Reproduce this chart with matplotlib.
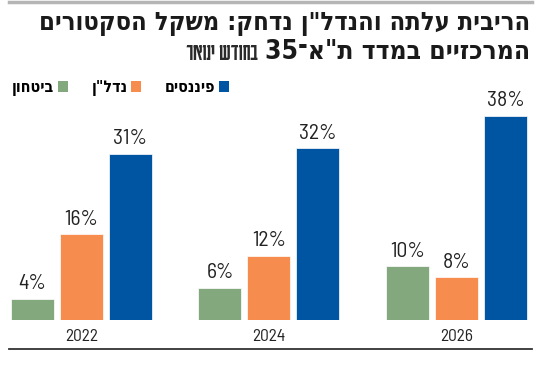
import re

import matplotlib
matplotlib.use("Agg")
import matplotlib.pyplot as plt
from matplotlib.lines import Line2D
from matplotlib.patches import Patch
from matplotlib.font_manager import FontProperties


# ==========================================================
# Data
# ==========================================================

years = ["2022", "2024", "2026"]

series_names = ["ביטחון", "נדל\"ן", "פיננסים"]

defense = [4, 6, 10]
real_estate = [16, 12, 8]
finance = [31, 32, 38]

colors = ["#84a87e", "#f68d4e", "#0055a3"]

title_line1 = "הריבית עלתה והנדל\"ן נדחק: משקל הסקטורים"
title_line2_bold = "המרכזיים במדד ת\"א־35"
title_line2_light = "בחודש ינואר"


# ==========================================================
# Helpers
# ==========================================================

def rtl(text):
    # matplotlib has no bidi: flip to visual order, keep digit runs
    flipped = text[::-1]
    return re.sub(r"[0-9%.,]+", lambda m: m.group(0)[::-1], flipped)


HEB = ["DejaVu Sans"]
HEB_LIGHT = ["Karantina", "DejaVu Sans"]
NUM = ["Barlow Semi Condensed", "DejaVu Sans"]


def fit_text(fig, x_px, y_px, text, width_px, **kw):
    # right aligned text, font size tuned so it spans width_px
    t = fig.text(x_px / W, 1 - y_px / H, text, ha="right", va="center",
                 fontsize=10, **kw)
    r = fig.canvas.get_renderer()
    w = t.get_window_extent(r).width
    t.set_fontsize(10 * width_px / w)
    return t


# ==========================================================
# Figure
# ==========================================================

W, H = 550, 365
fig = plt.figure(figsize=(W / 100, H / 100), dpi=100)

ax = fig.add_axes([0, 45 / H, 1, 214.7 / H])
ax.set_xlim(-0.4327, -0.4327 + W / 187.75)
ax.set_ylim(0, 40)
ax.axis("off")

step = 49 / 187.75
width = 43 / 187.75

for k, values in enumerate([defense, real_estate, finance]):
    xs = [i + (k - 1) * step for i in range(len(years))]
    bars = ax.bar(
        xs,
        values,
        width=width,
        color=colors[k],
        edgecolor="#ffffff",
        linewidth=0.5,
    )
    ax.bar_label(
        bars,
        labels=[f"{v}%" for v in values],
        padding=4,
        fontsize=15.5,
        family=NUM,
        color="#222222",
    )

for i, year in enumerate(years):
    ax.text(
        i,
        -17 / 5.368,
        year,
        ha="center",
        va="center",
        fontsize=12.5,
        family=NUM,
        color="#222222",
    )


# lines top and bottom
fig.add_artist(Line2D([9 / W, 532 / W], [1 - 2 / H, 1 - 2 / H],
                      color="#b5b5b5", linewidth=2.5))
fig.add_artist(Line2D([9 / W, 532 / W], [1 - 349 / H, 1 - 349 / H],
                      color="#333333", linewidth=1.3))


# titles
fit_text(fig, 530, 24, rtl(title_line1), 490,
         family=HEB, fontstretch="condensed", fontweight="bold",
         color="#1a1a1a")

fit_text(fig, 530, 52, rtl(title_line2_bold), 263,
         family=HEB, fontstretch="condensed", fontweight="bold",
         color="#1a1a1a")

fit_text(fig, 258, 53, rtl(title_line2_light), 72,
         family=HEB_LIGHT, color="#2a2a2a")


# legend
handles = [Patch(facecolor=c) for c in colors]
fig.legend(
    handles,
    [rtl(s) for s in series_names],
    loc="center left",
    bbox_to_anchor=(12 / W, 1 - 88 / H),
    ncol=3,
    markerfirst=False,
    frameon=False,
    borderpad=0,
    borderaxespad=0,
    handlelength=0.62,
    handleheight=0.62,
    handletextpad=0.25,
    columnspacing=1.45,
    prop=FontProperties(family=HEB, stretch="condensed", weight="bold",
                        size=11.5),
)


fig.savefig("out.png", dpi=100)
